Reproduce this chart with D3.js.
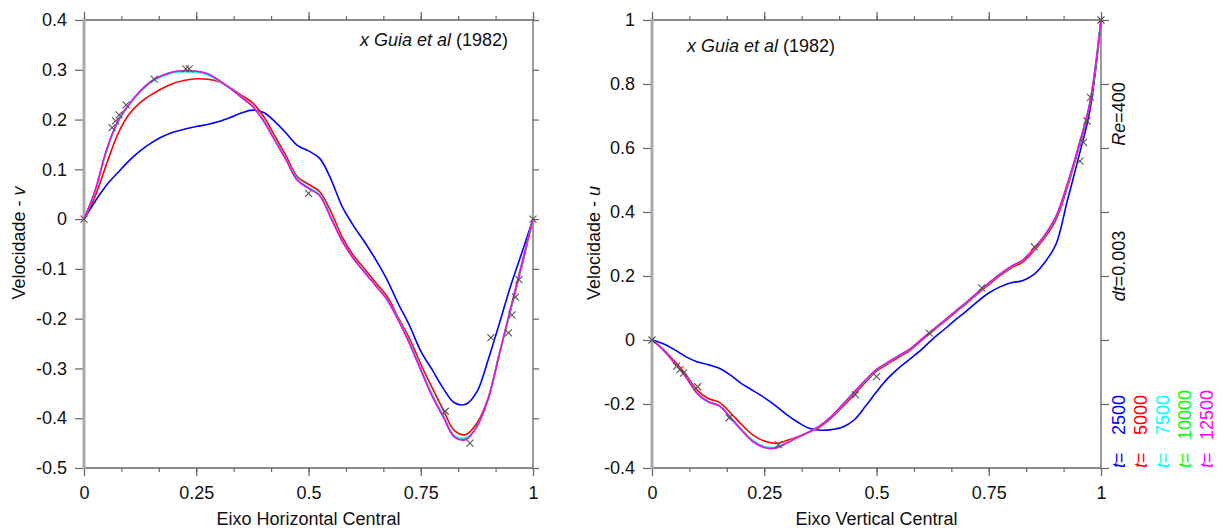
<!DOCTYPE html>
<html lang="pt">
<head>
  <meta charset="UTF-8">
  <title>Cavidade Re=400</title>
  <script src="https://d3js.org/d3.v7.min.js"></script>
  <style>
    body { margin: 0; background: #fff; }
    text { font-family: "Liberation Sans", Arial, sans-serif; fill: #111; }
  </style>
</head>
<body>
  <div id="chart"></div>
  <script>
    // grid of positions along the centre lines
    const xs = [0, 0.025, 0.05, 0.075, 0.1, 0.125, 0.15, 0.175, 0.2, 0.225, 0.25, 0.275, 0.3, 0.325, 0.35, 0.375, 0.4, 0.425, 0.45, 0.475, 0.5,
      0.525, 0.55, 0.575, 0.6, 0.625, 0.65, 0.675, 0.7, 0.725, 0.75, 0.775, 0.8, 0.825, 0.85, 0.875, 0.9, 0.925, 0.95, 0.975, 1];

    const times = ["2500", "5000", "7500", "10000", "12500"];
    const colors = ["#0000ff", "#ff0000", "#00ffff", "#00ff00", "#ff00ff"];

    // v along the horizontal centre line
    const v2500 = [0, 0.036, 0.068, 0.093, 0.117, 0.137, 0.153, 0.166, 0.175, 0.181, 0.186, 0.190, 0.196, 0.204, 0.213, 0.219, 0.214, 0.196, 0.173, 0.148, 0.137,
      0.122, 0.080, 0.025, -0.013, -0.046, -0.082, -0.122, -0.170, -0.214, -0.265, -0.302, -0.340, -0.369, -0.372, -0.347, -0.283, -0.210, -0.135, -0.068, 0];
    const v5000 = [0, 0.046, 0.110, 0.170, 0.210, 0.234, 0.250, 0.263, 0.273, 0.279, 0.282, 0.281, 0.276, 0.264, 0.249, 0.234, 0.206, 0.167, 0.127, 0.085, 0.070,
      0.055, 0.015, -0.036, -0.073, -0.100, -0.128, -0.155, -0.198, -0.240, -0.291, -0.338, -0.383, -0.425, -0.433, -0.410, -0.360, -0.270, -0.184, -0.095, 0];
    const v7500 = [0, 0.056, 0.135, 0.193, 0.228, 0.255, 0.275, 0.287, 0.294, 0.296, 0.295, 0.290, 0.277, 0.263, 0.246, 0.228, 0.199, 0.160, 0.121, 0.081, 0.064,
      0.050, 0.005, -0.043, -0.078, -0.105, -0.134, -0.161, -0.201, -0.247, -0.300, -0.350, -0.394, -0.435, -0.440, -0.416, -0.362, -0.271, -0.182, -0.091, 0];
    const v10000 = [0, 0.058, 0.138, 0.196, 0.230, 0.257, 0.277, 0.289, 0.296, 0.298, 0.297, 0.292, 0.279, 0.263, 0.245, 0.227, 0.197, 0.158, 0.119, 0.078, 0.062,
      0.047, 0.002, -0.044, -0.079, -0.107, -0.134, -0.162, -0.203, -0.250, -0.303, -0.354, -0.397, -0.437, -0.442, -0.417, -0.362, -0.272, -0.180, -0.090, 0];
    const v12500 = [0, 0.058, 0.139, 0.196, 0.230, 0.257, 0.277, 0.289, 0.296, 0.298, 0.297, 0.292, 0.279, 0.263, 0.245, 0.227, 0.197, 0.158, 0.119, 0.078, 0.062,
      0.047, 0.002, -0.044, -0.079, -0.107, -0.134, -0.162, -0.203, -0.250, -0.303, -0.355, -0.397, -0.438, -0.443, -0.417, -0.362, -0.272, -0.180, -0.090, 0];

    // u along the vertical centre line
    const u2500 = [0, -0.012, -0.030, -0.052, -0.068, -0.077, -0.088, -0.110, -0.137, -0.158, -0.180, -0.205, -0.233, -0.257, -0.276, -0.282, -0.280, -0.272, -0.250, -0.208, -0.162,
      -0.120, -0.087, -0.059, -0.030, 0.003, 0.032, 0.062, 0.090, 0.120, 0.147, 0.166, 0.179, 0.185, 0.204, 0.243, 0.300, 0.435, 0.570, 0.715, 1];
    const u5000 = [0, -0.029, -0.066, -0.107, -0.156, -0.183, -0.195, -0.228, -0.265, -0.297, -0.316, -0.323, -0.314, -0.302, -0.288, -0.271, -0.243, -0.208, -0.171, -0.133, -0.097,
      -0.075, -0.053, -0.032, -0.002, 0.027, 0.056, 0.085, 0.114, 0.144, 0.173, 0.201, 0.225, 0.243, 0.278, 0.320, 0.377, 0.477, 0.597, 0.730, 1];
    const u7500 = [0, -0.031, -0.071, -0.113, -0.164, -0.191, -0.204, -0.240, -0.280, -0.314, -0.333, -0.335, -0.320, -0.303, -0.287, -0.268, -0.239, -0.203, -0.165, -0.128, -0.093,
      -0.071, -0.049, -0.029, 0.001, 0.030, 0.059, 0.088, 0.117, 0.147, 0.177, 0.205, 0.229, 0.248, 0.284, 0.326, 0.385, 0.485, 0.603, 0.738, 1];
    const u10000 = [0, -0.031, -0.072, -0.115, -0.166, -0.193, -0.206, -0.243, -0.283, -0.317, -0.336, -0.338, -0.322, -0.304, -0.287, -0.267, -0.238, -0.201, -0.163, -0.126, -0.092,
      -0.070, -0.048, -0.028, 0.002, 0.031, 0.060, 0.089, 0.118, 0.148, 0.178, 0.206, 0.230, 0.249, 0.285, 0.328, 0.387, 0.487, 0.605, 0.740, 1];
    const u12500 = [0, -0.031, -0.072, -0.115, -0.166, -0.193, -0.206, -0.243, -0.283, -0.318, -0.336, -0.338, -0.322, -0.304, -0.287, -0.267, -0.238, -0.201, -0.163, -0.126, -0.092,
      -0.070, -0.048, -0.028, 0.002, 0.031, 0.060, 0.089, 0.118, 0.148, 0.178, 0.206, 0.230, 0.249, 0.285, 0.328, 0.387, 0.487, 0.605, 0.740, 1];

    // Ghia et al (1982), Re = 400
    const ghiaX = [1.0000, 0.9688, 0.9609, 0.9531, 0.9453, 0.9063, 0.8594, 0.8047, 0.5000, 0.2344, 0.2266, 0.1563, 0.0938, 0.0781, 0.0703, 0.0625, 0.0000];
    const ghiaV = [0, -0.12146, -0.15663, -0.19254, -0.22847, -0.23827, -0.44993, -0.38598, 0.05186, 0.30174, 0.30203, 0.28124, 0.22965, 0.20920, 0.19713, 0.18360, 0];
    const ghiaY = [1.0000, 0.9766, 0.9688, 0.9609, 0.9531, 0.8516, 0.7344, 0.6172, 0.5000, 0.4531, 0.2813, 0.1719, 0.1016, 0.0703, 0.0625, 0.0547, 0.0000];
    const ghiaU = [1, 0.75837, 0.68439, 0.61756, 0.55892, 0.29093, 0.16256, 0.02135, -0.11477, -0.17119, -0.32726, -0.24299, -0.14612, -0.10338, -0.09266, -0.08186, 0];

    const xTicks = [0, 0.25, 0.5, 0.75, 1];
    const vTicks = [0.4, 0.3, 0.2, 0.1, 0, -0.1, -0.2, -0.3, -0.4, -0.5];
    const uTicks = [1, 0.8, 0.6, 0.4, 0.2, 0, -0.2, -0.4];

    const width = 1226, height = 532;
    const yTop = 20, yBottom = 468;

    const svg = d3.select("#chart").append("svg")
      .attr("width", width)
      .attr("height", height);

    const fmt = d => (Math.round(d * 100) / 100).toString();
    const minor = d3.range(0, 13).map(k => k / 12);

    function panel(opt) {
      const x = d3.scaleLinear().domain([0, 1]).range([opt.left, opt.right]);
      const y = d3.scaleLinear().domain(opt.yDomain).range([yBottom, yTop]);
      const g = svg.append("g");

      const styleAxis = sel => {
        sel.select(".domain").remove();
        sel.selectAll("line").attr("stroke", "#666").attr("stroke-width", 1.2);
        sel.selectAll("text").style("font-family", "'Liberation Sans', Arial, sans-serif")
          .style("font-size", "18px").attr("fill", "#111");
      };

      g.append("g").attr("transform", `translate(0,${yBottom})`)
        .call(d3.axisBottom(x).tickValues(minor).tickSize(4).tickFormat("")).call(styleAxis);
      g.append("g").attr("transform", `translate(0,${yBottom})`)
        .call(d3.axisBottom(x).tickValues(xTicks).tickSize(8).tickPadding(10).tickFormat(fmt)).call(styleAxis);
      g.append("g").attr("transform", `translate(0,${yTop})`)
        .call(d3.axisTop(x).tickValues(minor).tickSize(4).tickFormat("")).call(styleAxis);
      g.append("g").attr("transform", `translate(0,${yTop})`)
        .call(d3.axisTop(x).tickValues(xTicks).tickSize(8).tickFormat("")).call(styleAxis);
      g.append("g").attr("transform", `translate(${opt.left},0)`)
        .call(d3.axisLeft(y).tickValues(opt.yTicks).tickSize(9).tickPadding(8).tickFormat(fmt)).call(styleAxis);
      g.append("g").attr("transform", `translate(${opt.right},0)`)
        .call(d3.axisRight(y).tickValues(opt.yTicks).tickSize(opt.rightTick).tickFormat("")).call(styleAxis);

      // frame
      g.append("path")
        .attr("d", `M${opt.left},${yTop}H${opt.right}V${yBottom}H${opt.left}`)
        .attr("fill", "none").attr("stroke", "#666").attr("stroke-width", 1.3);
      g.append("line")
        .attr("x1", opt.left).attr("x2", opt.left).attr("y1", yTop - 1).attr("y2", yBottom + 1)
        .attr("stroke", "#aaa").attr("stroke-width", 3);

      const line = d3.line().x((d, i) => x(xs[i])).y(d => y(d)).curve(d3.curveCatmullRom.alpha(0.5));
      g.selectAll(".curve").data(opt.series).enter().append("path")
        .attr("class", "curve")
        .attr("d", d => line(d))
        .attr("fill", "none")
        .attr("stroke", (d, i) => colors[i])
        .attr("stroke-width", 1.6);

      g.selectAll(".mark").data(opt.refX).enter().append("path")
        .attr("class", "mark")
        .attr("transform", (d, i) => `translate(${x(d)},${y(opt.refY[i])})`)
        .attr("d", "M-3.5,-3.5L3.5,3.5M-3.5,3.5L3.5,-3.5")
        .attr("stroke", "#555").attr("stroke-width", 1.1);

      // labels
      g.append("text")
        .attr("x", (opt.left + opt.right) / 2).attr("y", 525)
        .attr("text-anchor", "middle").style("font-size", "18px")
        .text(opt.xTitle);
      const yt = g.append("text")
        .attr("transform", `translate(${opt.yTitleX},243) rotate(-90)`)
        .attr("text-anchor", "middle").style("font-size", "18px");
      yt.append("tspan").text("Velocidade - ");
      yt.append("tspan").style("font-style", "italic").text(opt.yVar);

      const ref = g.append("text")
        .attr("x", opt.refTextX).attr("y", opt.refTextY)
        .attr("text-anchor", opt.refAnchor).style("font-size", "18px");
      ref.append("tspan").style("font-style", "italic").text("x Guia et al");
      ref.append("tspan").text(" (1982)");
    }

    panel({
      left: 84, right: 533, yDomain: [-0.5, 0.4], yTicks: vTicks, rightTick: 6,
      series: [v2500, v5000, v7500, v10000, v12500],
      refX: ghiaX, refY: ghiaV,
      xTitle: "Eixo Horizontal Central", yVar: "v", yTitleX: 25,
      refTextX: 508, refTextY: 46, refAnchor: "end"
    });
    panel({
      left: 652, right: 1101, yDomain: [-0.4, 1], yTicks: uTicks, rightTick: 8,
      series: [u2500, u5000, u7500, u10000, u12500],
      refX: ghiaY, refY: ghiaU,
      xTitle: "Eixo Vertical Central", yVar: "u", yTitleX: 600,
      refTextX: 687, refTextY: 52, refAnchor: "start"
    });

    // rotated notes at right
    const re = svg.append("text")
      .attr("transform", "translate(1125,114) rotate(-90)")
      .attr("text-anchor", "middle").style("font-size", "18px");
    re.append("tspan").style("font-style", "italic").text("Re");
    re.append("tspan").text("=400");

    const dt = svg.append("text")
      .attr("transform", "translate(1125,266) rotate(-90)")
      .attr("text-anchor", "middle").style("font-size", "18px");
    dt.append("tspan").style("font-style", "italic").text("dt");
    dt.append("tspan").text("=0.003");

    const legX = [1125, 1147, 1169, 1191, 1213];
    times.forEach((t, i) => {
      const te = svg.append("text")
        .attr("transform", `translate(${legX[i]},468) rotate(-90)`)
        .attr("text-anchor", "start").style("font-size", "18px")
        .style("fill", colors[i]);
      te.append("tspan").style("font-style", "italic").text("t");
      te.append("tspan").text("=");
      svg.append("text")
        .attr("transform", `translate(${legX[i]},415) rotate(-90)`)
        .attr("text-anchor", "middle").style("font-size", "18px")
        .style("fill", colors[i])
        .text(t);
    });
  </script>
</body>
</html>
